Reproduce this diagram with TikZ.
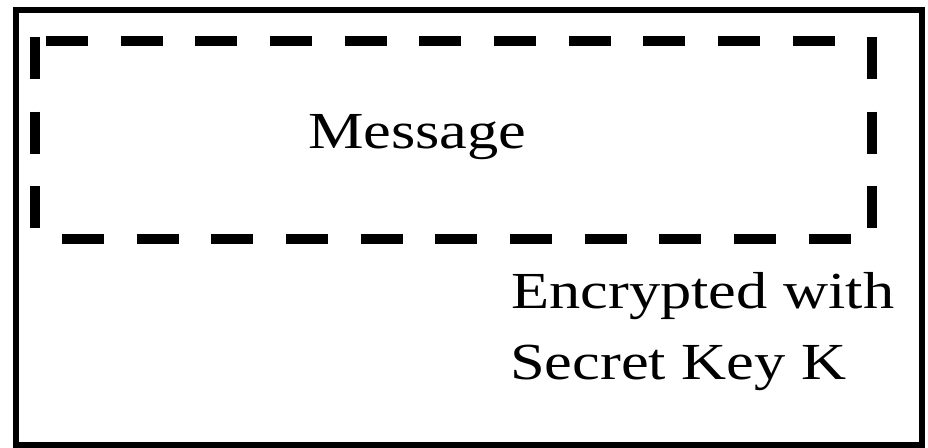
\documentclass[tikz,border=0pt]{standalone}
\usepackage{fontspec}
\setmainfont{Liberation Serif}[FakeStretch=1.2]
\usepackage{tikz}

\tikzset{
  frame/.style={line width=4pt},
  dashline/.style={line width=7.9pt, dash pattern=on 31.5pt off 24.5pt},
  bigtext/.style={anchor=base west, inner sep=0pt, font=\fontsize{39}{47}\selectfont}
}

\begin{document}
\begin{tikzpicture}[x=0.75pt,y=0.75pt,yscale=-1]
\useasboundingbox (0,0) rectangle (928,448);

%Shape: Rectangle [outer frame]
\draw [frame] (16,10) rectangle (922,445) ;
%Straight Lines [dashed box, top]
\draw [dashline] (46,41) -- (840,41) ;
%Straight Lines [dashed box, bottom]
\draw [dashline] (62,239) -- (855,239) ;
%Straight Lines [dashed box, left]
\draw [dashline] (35,37) -- (35,234) ;
%Straight Lines [dashed box, right]
\draw [dashline] (872,37) -- (872,234) ;

% Text Node
\node [bigtext] (msg) at (308,149) {Message};
% Text Node
\node [bigtext] (enc) at (511,309) {Encrypted with};
% Text Node
\node [bigtext] (key) at (510,380) {Secret Key K};

\end{tikzpicture}
\end{document}
